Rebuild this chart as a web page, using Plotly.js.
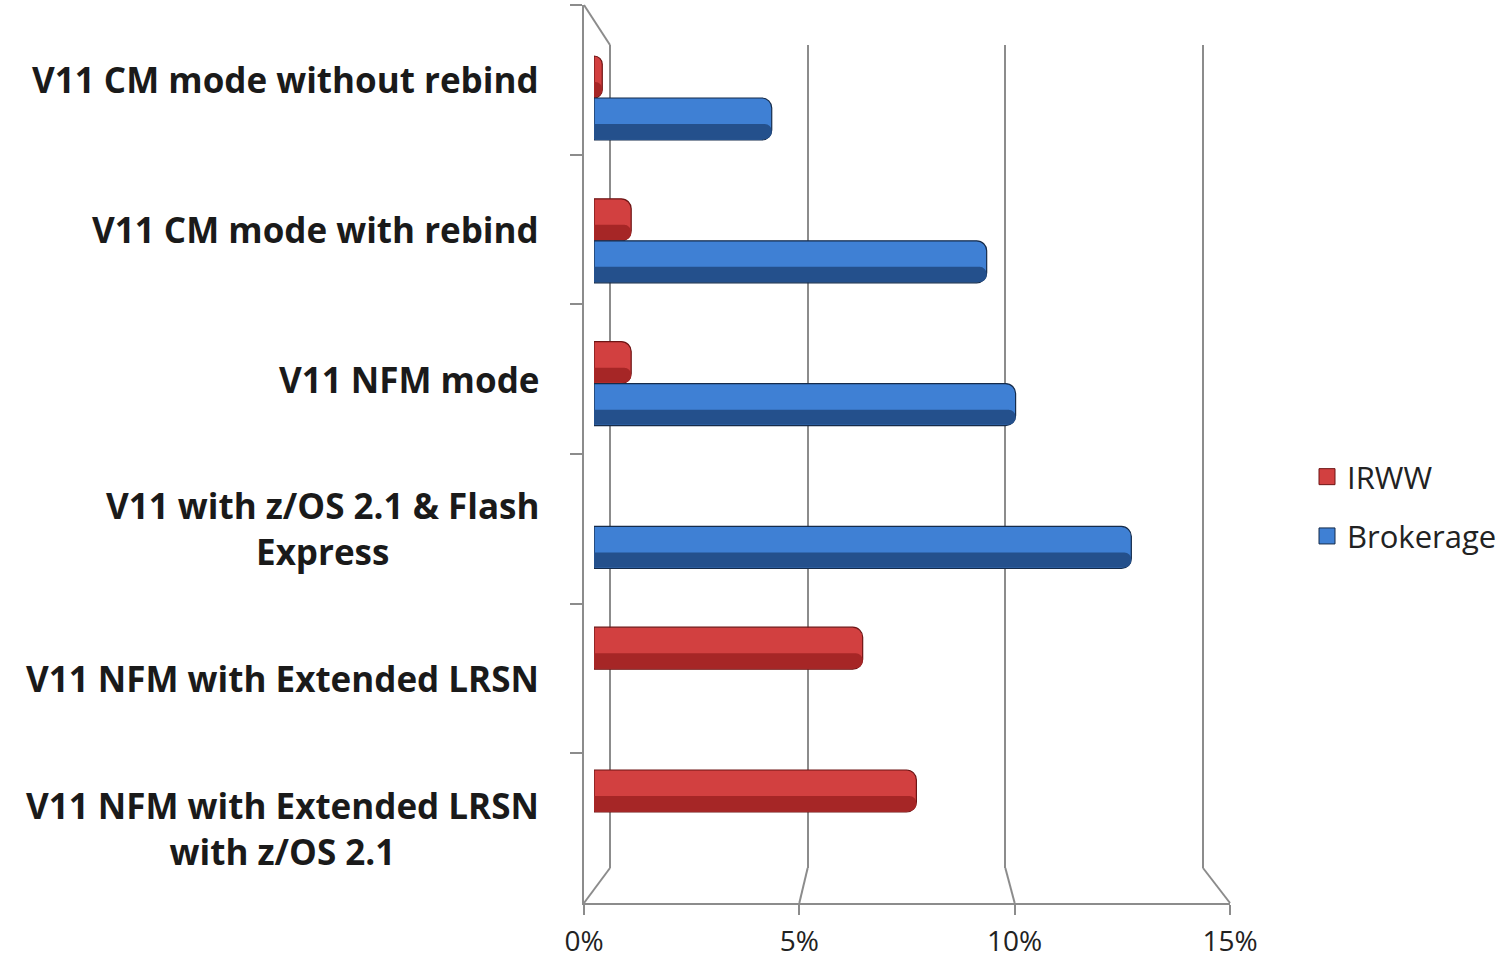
<!DOCTYPE html>
<html>
<head>
<meta charset="utf-8">
<script src="https://cdn.plot.ly/plotly-3.0.1.min.js"></script>
<style>html,body{margin:0;padding:0;background:#fff;}#chart{width:1511px;height:960px;}</style>
</head>
<body>
<div id="chart"></div>
<script>
// ---- data ----
const categories = [
  "V11 CM mode without rebind",
  "V11 CM mode with rebind",
  "V11 NFM mode",
  "V11 with z/OS 2.1 & Flash Express",
  "V11 NFM with Extended LRSN",
  "V11 NFM with Extended LRSN with z/OS 2.1"
];
const categoryLabels = [
  "V11 CM mode without rebind",
  "V11 CM mode with rebind",
  "V11 NFM mode",
  "V11 with z/OS 2.1 & Flash<br>Express",
  "V11 NFM with Extended LRSN",
  "V11 NFM with Extended LRSN<br>with z/OS 2.1"
];
const irww = [0.2, 0.9, 0.9, null, 6.5, 7.8];
const brokerage = [4.3, 9.5, 10.2, 13.0, null, null];
const xTickVals = [0, 5, 10, 15];
const xTickText = ["0%", "5%", "10%", "15%"];

// ---- geometry helpers (page pixels -> paper) ----
const W = 1511, H = 960;
const px = v => v / W;
const py = v => 1 - v / H;
const FRONT = {x0: 584, x1: 1230, yTop: 5, yBot: 903};
const BACK = {x0: 610, x1: 1203, yTop: 45, yBot: 868};
const BARS = {x0: 594, x1: 1214, yTop: 26.6, yBot: 883.4};
const FONT = "'Open Sans', Lato, sans-serif";
const backPad = (BACK.x1 - BACK.x0) / 15 * 0.5;

const barW = 0.294;
const colors = {
  IRWW: {body: "#D24040", dark: "#A62626", line: "#6E1414"},
  Brokerage: {body: "#3F80D4", dark: "#24508C", line: "#152B4A"}
};

function barTraces(name, vals, off) {
  const c = colors[name];
  return [
    {type: "bar", orientation: "h", name: name, x: vals, y: categories,
     xaxis: "x3", yaxis: "y3", offset: off, width: barW, showlegend: false,
     marker: {color: c.body, line: {color: c.line, width: 1.2}, cornerradius: 10},
     hoverinfo: "x+name"},
    {type: "bar", orientation: "h", name: name + " shade", x: vals, y: categories,
     xaxis: "x3", yaxis: "y3", offset: off + barW * 0.62, width: barW * 0.36, showlegend: false,
     marker: {color: c.dark, line: {width: 0}, cornerradius: 8}, hoverinfo: "skip"}
  ];
}
function legendTrace(name) {
  const c = colors[name];
  return {type: "scatter", mode: "markers", name: name, x: [null], y: [null],
          xaxis: "x3", yaxis: "y3", legendgroup: name, showlegend: true,
          marker: {symbol: "square", size: 18, color: c.body, line: {color: c.line, width: 1}}};
}

const traces = [
  {type: "scatter", x: [], y: [], xaxis: "x2", yaxis: "y2", showlegend: false, hoverinfo: "skip"},
  ...barTraces("IRWW", irww, -barW),
  ...barTraces("Brokerage", brokerage, 0),
  legendTrace("IRWW"),
  legendTrace("Brokerage")
];

// front -> back connector lines
const frontX = v => px(FRONT.x0 + (FRONT.x1 - FRONT.x0) * v / 15);
const backX = v => px(BACK.x0 + (BACK.x1 - BACK.x0) * v / 15);
const grey = "#8c8c8c";
const shapes = xTickVals.map(v => ({
  type: "line", xref: "paper", yref: "paper",
  x0: backX(v), y0: py(BACK.yBot), x1: frontX(v), y1: py(FRONT.yBot),
  line: {color: grey, width: 2}, layer: "below"
}));
shapes.push({type: "line", xref: "paper", yref: "paper",
  x0: px(FRONT.x0), y0: py(FRONT.yTop), x1: px(BACK.x0), y1: py(BACK.yTop),
  line: {color: grey, width: 2}, layer: "below"});

const annotations = categories.map((c, i) => ({
  xref: "paper", yref: "y", x: px(541), y: c, xanchor: "right", yanchor: "middle",
  align: "center", showarrow: false, text: "<b>" + categoryLabels[i] + "</b>",
  font: {family: FONT, size: 35, color: "#1a1a1a"}
}));

const layout = {
  width: W, height: H,
  margin: {l: 0, r: 0, t: 0, b: 0},
  paper_bgcolor: "#fff", plot_bgcolor: "rgba(0,0,0,0)",
  barmode: "overlay",
  showlegend: true,
  legend: {x: px(1307), y: py(450), xanchor: "left", yanchor: "top",
           font: {family: FONT, size: 31, color: "#222"}, tracegroupgap: 16,
           traceorder: "grouped", itemwidth: 30, itemsizing: "trace",
           bgcolor: "rgba(0,0,0,0)"},
  xaxis: {domain: [px(FRONT.x0), px(FRONT.x1)], range: [0, 15], anchor: "y",
          tickvals: xTickVals, ticktext: xTickText, ticks: "outside", ticklen: 10,
          tickwidth: 2, tickcolor: grey, showline: true, linecolor: grey, linewidth: 2,
          showgrid: false, zeroline: false, ticklabelstandoff: 2,
          tickfont: {family: FONT, size: 28, color: "#222"}, fixedrange: true},
  yaxis: {domain: [py(FRONT.yBot), py(FRONT.yTop)], type: "category",
          categoryorder: "array", categoryarray: categories, range: [5.5, -0.5],
          anchor: "x", tickson: "boundaries", ticks: "outside", ticklen: 12,
          tickwidth: 2, tickcolor: grey, showticklabels: false, showline: true,
          linecolor: grey, linewidth: 2, showgrid: false, zeroline: false, fixedrange: true},
  xaxis2: {domain: [px(BACK.x0 - backPad), px(BACK.x1 + backPad)], range: [-0.5, 15.5], anchor: "y2",
           tickmode: "array", tickvals: xTickVals, showgrid: true, gridcolor: grey, gridwidth: 2,
           zeroline: true, zerolinecolor: grey, zerolinewidth: 2,
           showticklabels: false, ticks: "", showline: false, fixedrange: true},
  yaxis2: {domain: [py(BACK.yBot), py(BACK.yTop)], range: [0, 1], anchor: "x2",
           showgrid: false, zeroline: false, showticklabels: false, ticks: "",
           showline: false, fixedrange: true},
  xaxis3: {domain: [px(BARS.x0), px(BARS.x1)], range: [0, 15], anchor: "y3",
           visible: false, fixedrange: true},
  yaxis3: {domain: [py(BARS.yBot), py(BARS.yTop)], type: "category",
           categoryorder: "array", categoryarray: categories, range: [5.5, -0.5],
           anchor: "x3", visible: false, fixedrange: true},
  shapes: shapes,
  annotations: annotations
};

Plotly.newPlot("chart", traces, layout, {displayModeBar: false, staticPlot: true});
</script>
</body>
</html>
